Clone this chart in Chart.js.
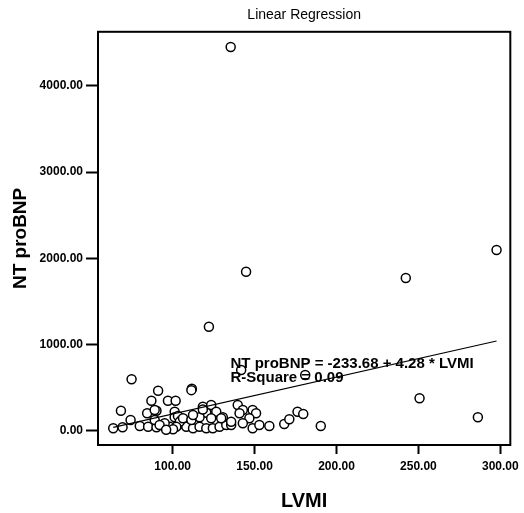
<!DOCTYPE html>
<html>
<head>
<meta charset="utf-8">
<script src="https://cdn.jsdelivr.net/npm/chart.js@4"></script>
<style>
  html, body { margin: 0; padding: 0; background: #fff; }
  #wrap { width: 524px; height: 513px; }
</style>
</head>
<body>
<div id="wrap"><canvas id="chart-lvmi" width="524" height="513"></canvas></div>
<script>
// LVMI vs NT proBNP
let lvmi = [
  135.4, 144.8, 122.1, 242.3, 297.7, 250.7, 286.3, 190.4, 141.8, 180.9,
  74.9, 91.1, 111.7, 111.4, 87.0, 97.1, 101.8, 68.4, 90.1, 84.4,
  101.2, 74.3, 63.7, 69.4, 79.9, 85.0, 90.1, 93.1, 98.2, 103.2,
  101.2, 103.2, 105.3, 108.3, 112.4, 116.4, 120.5, 124.5, 128.6, 132.7,
  135.7, 118.4, 123.5, 120.5, 126.6, 123.5, 116.4, 139.7, 118.4, 130.6,
  148.8, 150.9, 146.8, 142.8, 148.8, 152.9, 159.0, 168.1, 171.2, 176.2,
  179.7, 135.7, 89.0, 89.0, 95.1, 104.3, 106.3, 102.2, 111.4, 112.4,
  129.6, 142.8, 140.8, 92.0, 100.2, 96.0
]
let ntprobnp = [
  4449, 1843, 1206, 1770, 2095, 376, 155, 54, 704, 646,
  596, 464, 487, 470, 348, 348, 348, 232, 232, 202,
  220, 124, 28, 39, 54, 46, 39, 66, 46, 66,
  155, 170, 124, 46, 28, 46, 28, 28, 46, 66,
  66, 278, 298, 209, 220, 144, 155, 298, 245, 155,
  240, 202, 144, 86, 28, 66, 54, 78, 132, 220,
  194, 104, 124, 240, 86, 104, 144, 46, 124, 182,
  144, 240, 202, 66, 16, 10
]
let x_ticks = [100, 150, 200, 250, 300]
let y_ticks = [0, 1000, 2000, 3000, 4000]

// fit shown on the chart
let intercept = -233.68
let slope = 4.28
let fit_text = ['NT proBNP = -233.68 + 4.28 * LVMI', 'R-Square = 0.09']
let fit_text_pos = [[135.3, 773], [135.3, 617]]

let font_family = "'Liberation Sans', Arial, sans-serif"

let points = lvmi.map((v, i) => ({x: v, y: ntprobnp[i]}))
let xmin = Math.min(...lvmi)
let xmax = Math.max(...lvmi)
let fit_line = [xmin, xmax].map(v => ({x: v, y: intercept + slope * v}))

// box round the plot area + equation text
const frameAndText = {
  id: 'frameAndText',
  beforeDatasetsDraw(chart) {
    const {ctx, chartArea: a} = chart
    ctx.save()
    ctx.strokeStyle = '#000'
    ctx.lineWidth = 2
    ctx.strokeRect(a.left, a.top, a.right - a.left, a.bottom - a.top)
    ctx.restore()
  },
  afterDatasetsDraw(chart) {
    const {ctx, scales} = chart
    ctx.save()
    ctx.fillStyle = '#000'
    ctx.font = 'bold 15px ' + font_family
    ctx.textAlign = 'left'
    ctx.textBaseline = 'middle'
    fit_text.forEach((t, i) => {
      ctx.fillText(t, scales.x.getPixelForValue(fit_text_pos[i][0]), scales.y.getPixelForValue(fit_text_pos[i][1]))
    })
    ctx.restore()
  }
}

var ctx = document.getElementById('chart-lvmi').getContext('2d')

var chart = new Chart(ctx, {
  type: 'scatter',
  data: {
    datasets: [{
      type: 'line',
      data: fit_line,
      borderColor: '#000',
      borderWidth: 1.2,
      pointRadius: 0,
      fill: false,
    }, {
      data: points,
      pointRadius: 4.5,
      pointBorderWidth: 1.5,
      borderColor: '#000',
      backgroundColor: '#fff',
    }]
  },
  options: {
    responsive: false,
    animation: false,
    layout: { padding: { left: 0, right: 12, top: 0, bottom: 0 } },
    plugins: {
      legend: { display: false },
      tooltip: { enabled: false },
      title: {
        display: true,
        text: 'Linear Regression',
        fullSize: false,
        color: '#000',
        font: { family: font_family, size: 14, weight: 'normal' },
        padding: { top: 7, bottom: 8 }
      }
    },
    scales: {
      x: {
        type: 'linear',
        min: 54.4,
        max: 306.1,
        afterBuildTicks: s => { s.ticks = x_ticks.map(v => ({value: v})) },
        afterFit: s => { s.height = 68 },
        border: { display: false },
        grid: { drawOnChartArea: false, drawTicks: true, tickLength: 9, tickColor: '#000', tickWidth: 2 },
        ticks: {
          color: '#000',
          padding: 5,
          maxRotation: 0,
          font: { family: font_family, size: 12, weight: 'bold' },
          callback: v => v.toFixed(2)
        },
        title: {
          display: true,
          text: 'LVMI',
          color: '#000',
          font: { family: font_family, size: 20, weight: 'bold' },
          padding: { top: 0, bottom: 0 }
        }
      },
      y: {
        type: 'linear',
        min: -166,
        max: 4626,
        afterBuildTicks: s => { s.ticks = y_ticks.map(v => ({value: v})) },
        afterFit: s => { s.width = 98 },
        border: { display: false },
        grid: { drawOnChartArea: false, drawTicks: true, tickLength: 12, tickColor: '#000', tickWidth: 2 },
        ticks: {
          color: '#000',
          padding: 3,
          font: { family: font_family, size: 12, weight: 'bold' },
          callback: v => v.toFixed(2)
        },
        title: {
          display: true,
          text: 'NT proBNP',
          color: '#000',
          font: { family: font_family, size: 19, weight: 'bold' },
          padding: { top: 9, bottom: 0 }
        }
      }
    }
  },
  plugins: [frameAndText]
});
</script>
</body>
</html>
